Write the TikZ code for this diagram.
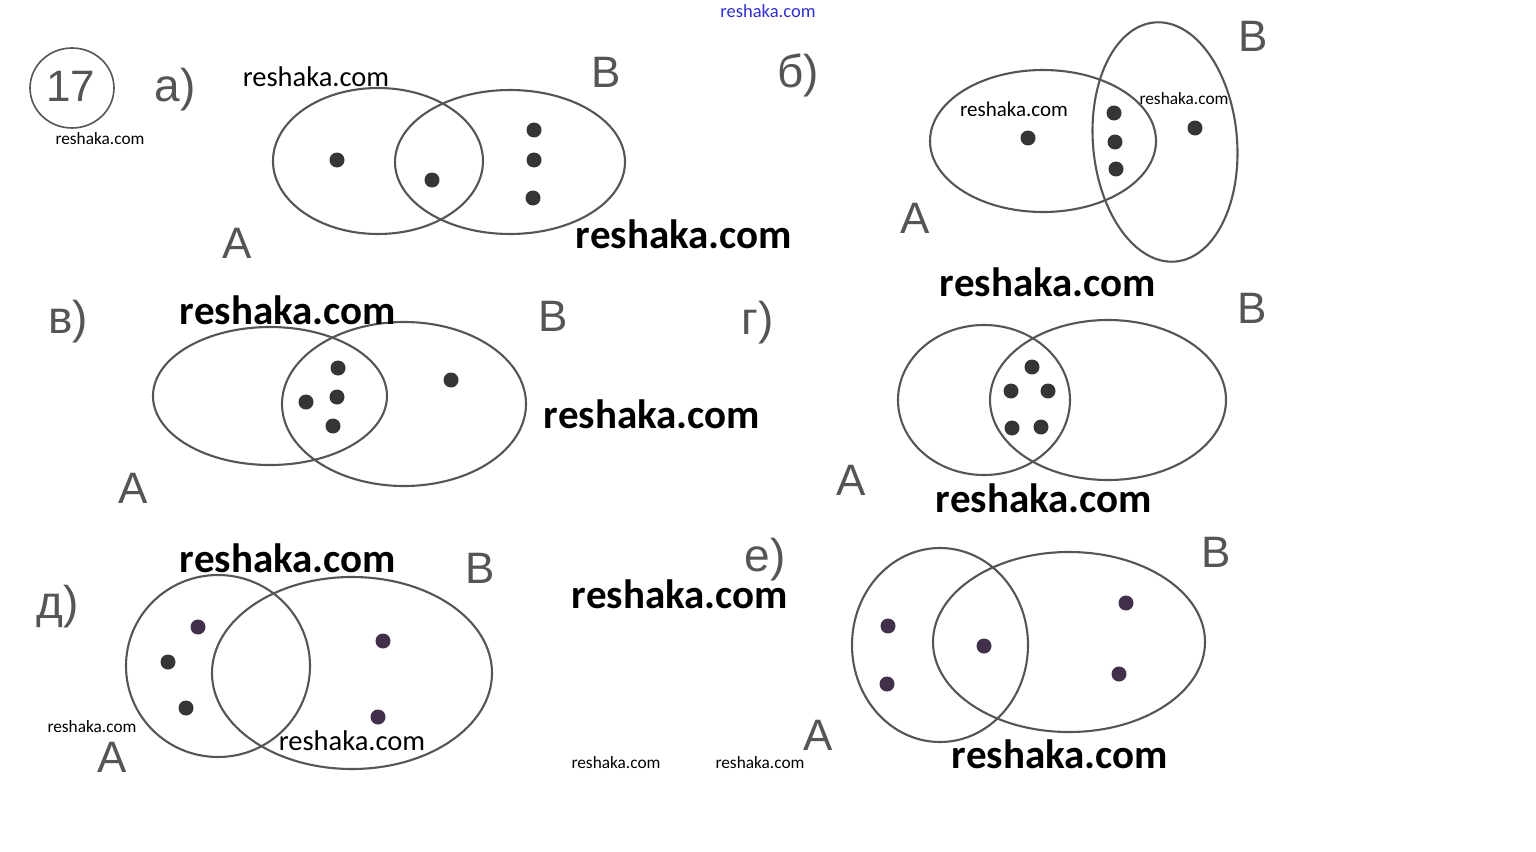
\documentclass[tikz,border=0pt]{standalone}
\usepackage{fontspec}
\setmainfont{Liberation Sans}
\newfontfamily\wmfont{Carlito}
\newfontfamily\handfont{Liberation Sans}
\usetikzlibrary{shapes.geometric}
\definecolor{pencil}{HTML}{555555}
\definecolor{dotc}{HTML}{353535}
\definecolor{dotp}{HTML}{42304A}
\definecolor{wmblue}{HTML}{3030D0}
\tikzset{
  setline/.style={draw=pencil, line width=2.1pt},
  elem/.style={circle, fill=dotc, inner sep=0pt, minimum size=15pt},
  elemp/.style={circle, fill=dotp, inner sep=0pt, minimum size=15pt},
  hand/.style={text=pencil, font=\handfont\fontsize{44}{44}\selectfont, inner sep=0pt},
  part/.style={text=pencil, font=\handfont\fontsize{46}{46}\selectfont, inner sep=0pt},
  wmL/.style={text=black, font=\wmfont\bfseries\fontsize{41}{41}\selectfont, inner sep=0pt},
  wmM/.style={text=black, font=\wmfont\fontsize{28.5}{28.5}\selectfont, inner sep=0pt},
  wmMS/.style={text=black, font=\wmfont\fontsize{21}{21}\selectfont, inner sep=0pt},
  wmS/.style={text=black, font=\wmfont\fontsize{17.3}{17.3}\selectfont, inner sep=0pt},
}
\begin{document}
\begin{tikzpicture}[x=1pt, y=-1pt]
\useasboundingbox[fill=white] (0,0) rectangle (1536,851);

% top watermark
\node[text=wmblue, font=\wmfont\fontsize{18.5}{18.5}\selectfont, inner sep=0pt] (wtop) at (768,11) {reshaka.com};

% 17 circled
\draw[setline, line width=1.6pt] (72,88) ellipse (42 and 40);
\node[hand] (num) at (71,86) {17};

% ---- а)
\node[part] (pa) at (175,90) {а)};
\draw[setline] (378,161) ellipse (105 and 73);
\draw[setline] (510,162) ellipse (115 and 72);
\node[elem] (a1) at (337,160) {};
\node[elem] (a2) at (432,180) {};
\node[elem] (a3) at (534,130) {};
\node[elem] (a4) at (534,160) {};
\node[elem] (a5) at (533,198) {};
\node[hand] (aA) at (237,243) {A};
\node[hand] (aB) at (606,72) {B};

% ---- б)
\node[part] (pb) at (798,75) {б)};
\draw[setline] (1043,141) ellipse (113 and 71);
\draw[setline, rotate around={5:(1165,142)}] (1165,142) ellipse (72 and 120);
\node[elem] (b1) at (1028,138) {};
\node[elem] (b2) at (1114,113) {};
\node[elem] (b3) at (1115,142) {};
\node[elem] (b4) at (1116,169) {};
\node[elem] (b5) at (1195,128) {};
\node[hand] (bA) at (915,218) {A};
\node[hand] (bB) at (1253,36) {B};

% ---- в)
\node[part] (pv) at (68,322) {в)};
\draw[setline] (270,396) ellipse (117 and 69);
\draw[setline] (404,404) ellipse (122 and 82);
\node[elem] (v1) at (338,368) {};
\node[elem] (v2) at (306,402) {};
\node[elem] (v3) at (337,397) {};
\node[elem] (v4) at (333,426) {};
\node[elem] (v5) at (451,380) {};
\node[hand] (vA) at (133,488) {A};
\node[hand] (vB) at (553,316) {B};

% ---- г)
\node[part] (pg) at (758,323) {г)};
\draw[setline] (984,400) ellipse (86 and 75);
\draw[setline] (1108,400) ellipse (118 and 80);
\node[elem] (g1) at (1032,367) {};
\node[elem] (g2) at (1011,391) {};
\node[elem] (g3) at (1048,391) {};
\node[elem] (g4) at (1012,428) {};
\node[elem] (g5) at (1041,427) {};
\node[hand] (gA) at (851,480) {A};
\node[hand] (gB) at (1252,308) {B};

% ---- д)
\node[part] (pd) at (58,607) {д)};
\draw[setline] (218,666) ellipse (92 and 91);
\draw[setline] (352,673) ellipse (140 and 96);
\node[elemp] (d1) at (198,627) {};
\node[elem] (d2) at (168,662) {};
\node[elem] (d3) at (186,708) {};
\node[elemp] (d4) at (383,641) {};
\node[elemp] (d5) at (378,717) {};
\node[hand] (dA) at (112,757) {A};
\node[hand] (dB) at (480,568) {B};

% ---- е)
\node[part] (pe) at (765,560) {е)};
\draw[setline] (940,645) ellipse (88 and 97);
\draw[setline] (1069,642) ellipse (136 and 90);
\node[elemp] (e1) at (888,626) {};
\node[elemp] (e2) at (887,684) {};
\node[elemp] (e3) at (984,646) {};
\node[elemp] (e4) at (1126,603) {};
\node[elemp] (e5) at (1119,674) {};
\node[hand] (eA) at (818,735) {A};
\node[hand] (eB) at (1216,552) {B};

% watermarks
\node[wmM] (w1) at (316,77) {reshaka.com};
\node[wmS] (w2) at (100,139) {reshaka.com};
\node[wmL] (w3) at (684,234) {reshaka.com};
\node[wmMS] (w4) at (1014,109) {reshaka.com};
\node[wmS] (w5) at (1184,99) {reshaka.com};
\node[wmL] (w6) at (1048,282) {reshaka.com};
\node[wmL] (w7) at (288,310) {reshaka.com};
\node[wmL] (w8) at (652,414) {reshaka.com};
\node[wmL] (w9) at (1044,498) {reshaka.com};
\node[wmL] (w10) at (288,558) {reshaka.com};
\node[wmL] (w11) at (680,594) {reshaka.com};
\node[wmS] (w12) at (92,727) {reshaka.com};
\node[wmM] (w13) at (352,741) {reshaka.com};
\node[wmS] (w14) at (616,763) {reshaka.com};
\node[wmS] (w15) at (760,763) {reshaka.com};
\node[wmL] (w16) at (1060,754) {reshaka.com};
\end{tikzpicture}
\end{document}
